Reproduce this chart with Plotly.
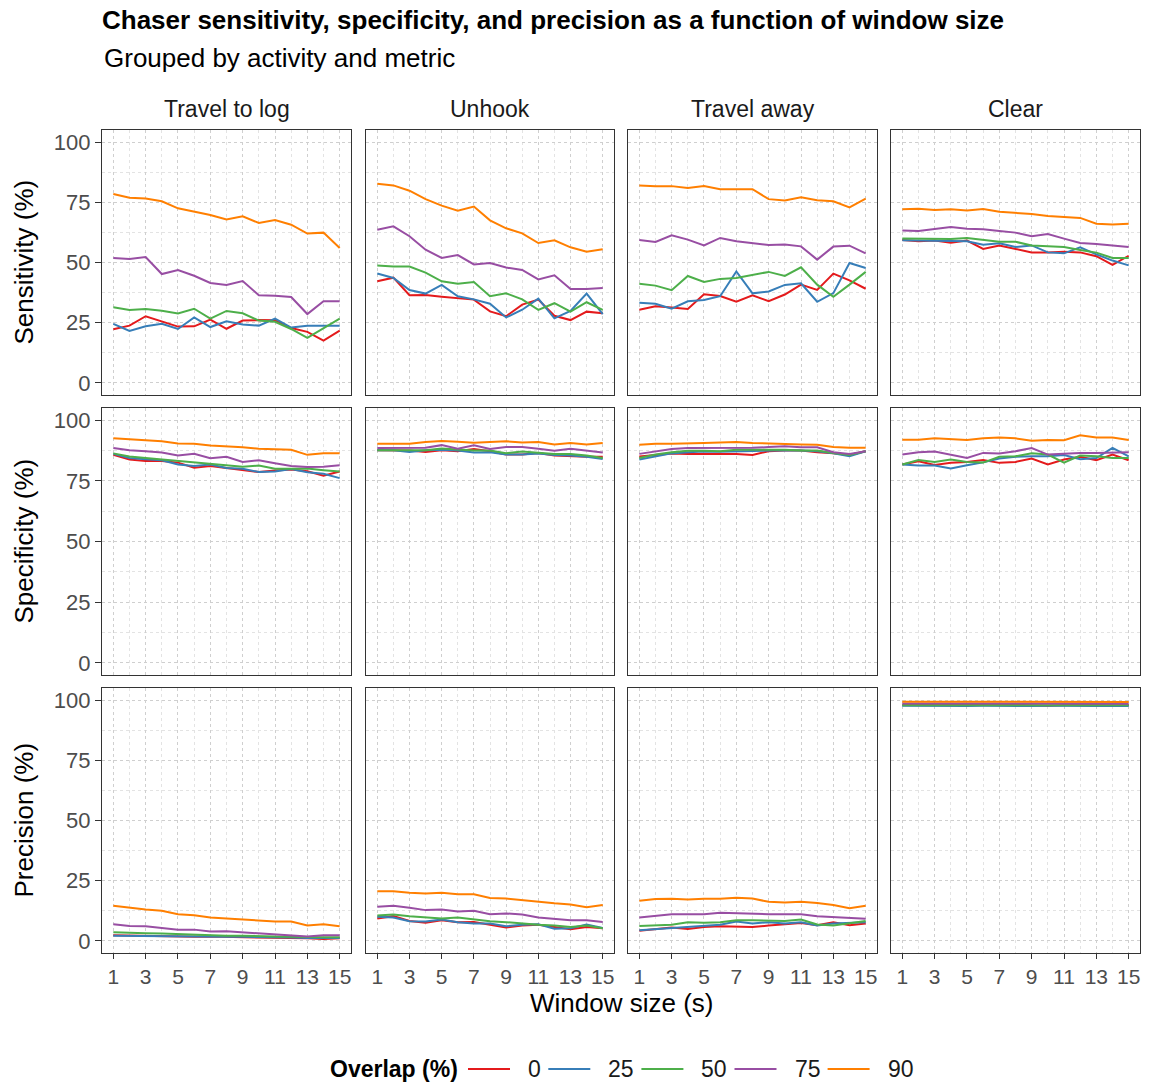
import plotly.graph_objects as go

# ---------------- data ----------------
window_sizes = list(range(1, 16))
overlaps = ["0", "25", "50", "75", "90"]
activities = ["Travel to log", "Unhook", "Travel away", "Clear"]
metrics = ["Sensitivity (%)", "Specificity (%)", "Precision (%)"]
colors = ["#E41A1C", "#377EB8", "#4DAF4A", "#984EA3", "#FF7F00"]
x_tick_vals = [1, 3, 5, 7, 9, 11, 13, 15]
y_tick_vals = [0, 25, 50, 75, 100]

# rows in each panel array follow overlaps order: 0, 25, 50, 75, 90
sens_travel_to_log = [
    [22.3, 23.8, 27.7, 25.6, 23.4, 23.5, 26.3, 22.5, 25.9, 26.1, 26.0, 22.8, 21.2, 17.6, 21.7],
    [24.5, 21.6, 23.5, 24.6, 22.4, 27.2, 23.2, 25.6, 24.3, 23.8, 26.7, 23.0, 23.7, 23.7, 23.7],
    [31.4, 30.3, 30.7, 30.0, 28.8, 30.8, 26.7, 29.9, 28.9, 25.9, 25.4, 22.4, 18.7, 22.8, 26.7],
    [51.9, 51.5, 52.3, 45.2, 46.9, 44.5, 41.5, 40.7, 42.3, 36.4, 36.2, 35.7, 28.6, 33.9, 33.9],
    [78.4, 76.9, 76.6, 75.4, 72.5, 71.2, 69.7, 67.9, 69.2, 66.4, 67.6, 65.7, 62.0, 62.4, 56.0],
]
sens_unhook = [
    [42.2, 43.7, 36.4, 36.5, 35.8, 35.3, 34.6, 29.7, 27.7, 32.5, 34.6, 27.9, 26.1, 29.6, 28.9],
    [45.4, 43.6, 38.6, 37.1, 40.7, 36.0, 34.7, 32.9, 27.2, 30.4, 35.0, 26.8, 29.9, 37.1, 28.6],
    [48.8, 48.3, 48.3, 45.8, 42.2, 41.2, 41.9, 36.0, 37.2, 34.7, 30.3, 33.1, 29.6, 33.5, 30.3],
    [63.6, 65.0, 60.9, 55.3, 51.9, 53.1, 49.2, 49.8, 47.9, 46.9, 43.0, 44.7, 39.0, 39.0, 39.4],
    [82.7, 82.0, 79.8, 76.3, 73.6, 71.5, 73.2, 67.5, 64.2, 62.1, 58.1, 59.2, 56.3, 54.5, 55.5],
]
sens_travel_away = [
    [30.4, 31.8, 31.3, 30.7, 36.8, 36.1, 33.7, 36.4, 33.9, 36.7, 40.8, 38.6, 45.4, 42.6, 39.1],
    [33.3, 32.9, 30.8, 33.9, 34.4, 36.0, 46.3, 37.2, 38.0, 40.7, 41.4, 33.7, 37.3, 49.8, 47.7],
    [41.2, 40.4, 38.5, 44.4, 41.9, 43.2, 43.6, 45.0, 46.1, 44.4, 48.0, 40.8, 35.8, 40.8, 46.1],
    [59.3, 58.5, 61.3, 59.5, 57.1, 60.2, 58.8, 58.1, 57.3, 57.5, 56.7, 51.2, 56.6, 57.0, 53.8],
    [82.0, 81.6, 81.7, 80.9, 81.7, 80.4, 80.4, 80.4, 76.3, 75.7, 77.1, 75.8, 75.4, 72.9, 76.5],
]
sens_clear = [
    [59.3, 58.8, 59.1, 58.2, 59.1, 55.6, 57.1, 55.5, 54.2, 54.1, 54.5, 54.2, 52.6, 49.0, 52.8],
    [59.2, 59.2, 59.2, 58.9, 58.8, 57.4, 58.0, 56.4, 57.1, 54.2, 53.8, 56.3, 53.4, 50.8, 48.8],
    [60.0, 59.9, 59.9, 59.8, 60.2, 59.5, 58.6, 58.6, 57.1, 56.7, 56.4, 55.2, 54.1, 51.9, 51.9],
    [63.3, 63.1, 63.9, 64.7, 64.0, 63.8, 63.1, 62.4, 60.9, 61.8, 59.9, 58.1, 57.7, 57.0, 56.4],
    [72.1, 72.3, 71.8, 72.1, 71.6, 72.2, 71.1, 70.7, 70.1, 69.3, 69.0, 68.5, 66.1, 65.8, 66.1],
]

spec_travel_to_log = [
    [85.7, 83.8, 83.2, 83.2, 82.5, 80.4, 81.1, 80.3, 79.2, 78.6, 79.2, 79.7, 78.9, 77.1, 78.8],
    [86.1, 84.4, 83.9, 83.5, 81.7, 81.1, 81.7, 80.3, 80.0, 78.6, 78.8, 79.9, 78.5, 77.9, 76.1],
    [86.3, 85.0, 84.4, 83.8, 83.1, 82.4, 82.1, 81.4, 80.8, 81.3, 80.0, 80.0, 80.1, 79.4, 78.8],
    [88.5, 87.6, 87.2, 86.7, 85.4, 86.1, 84.3, 84.9, 82.8, 83.5, 82.2, 81.1, 80.7, 80.8, 81.4],
    [92.5, 92.1, 91.7, 91.3, 90.4, 90.3, 89.6, 89.3, 88.8, 88.2, 87.9, 87.8, 85.7, 86.4, 86.4],
]
spec_unhook = [
    [87.6, 87.6, 87.5, 86.9, 87.6, 87.2, 88.1, 87.2, 85.8, 85.8, 86.5, 85.4, 85.1, 84.9, 84.9],
    [87.6, 87.6, 86.9, 87.6, 87.8, 87.5, 86.7, 86.8, 85.8, 85.8, 86.3, 85.6, 85.4, 84.9, 84.0],
    [87.6, 87.6, 87.6, 87.6, 88.3, 87.8, 87.5, 87.5, 86.4, 87.1, 86.5, 86.1, 86.0, 85.4, 84.4],
    [88.5, 88.6, 88.6, 88.6, 89.7, 88.2, 89.6, 88.1, 88.9, 88.9, 88.2, 87.4, 88.2, 87.6, 86.7],
    [90.3, 90.3, 90.3, 91.0, 91.4, 91.1, 90.7, 91.0, 91.3, 90.8, 91.0, 90.0, 90.6, 90.0, 90.6],
]
spec_travel_away = [
    [85.0, 85.8, 86.3, 86.1, 86.1, 86.3, 86.1, 85.6, 87.2, 87.5, 87.5, 86.8, 86.4, 85.6, 87.2],
    [83.8, 85.1, 86.3, 86.8, 87.1, 87.0, 87.2, 87.2, 87.5, 87.6, 87.5, 87.2, 86.4, 85.1, 87.2],
    [84.4, 85.8, 86.8, 87.4, 87.4, 87.2, 87.8, 87.8, 87.9, 87.8, 87.5, 87.5, 86.5, 85.6, 87.2],
    [86.1, 87.2, 88.1, 88.5, 88.5, 88.3, 88.3, 88.6, 88.9, 89.2, 88.8, 88.8, 86.8, 86.1, 87.2],
    [89.9, 90.3, 90.3, 90.6, 90.6, 90.8, 91.0, 90.6, 90.3, 90.1, 90.0, 89.9, 88.9, 88.6, 88.6],
]
spec_clear = [
    [81.7, 83.1, 81.5, 82.4, 82.8, 83.6, 82.4, 82.8, 84.2, 81.7, 83.8, 84.9, 83.5, 85.8, 83.5],
    [81.7, 81.3, 81.3, 80.1, 81.4, 82.6, 84.2, 84.9, 85.1, 85.1, 85.6, 83.9, 84.4, 88.6, 85.1],
    [81.7, 83.6, 82.8, 83.8, 82.8, 82.5, 84.9, 85.1, 86.4, 85.8, 82.5, 85.4, 85.1, 84.4, 84.4],
    [85.8, 86.8, 87.1, 85.6, 84.4, 86.5, 86.3, 87.2, 88.5, 85.8, 86.3, 86.5, 86.5, 86.5, 86.8],
    [91.9, 91.9, 92.5, 92.2, 91.8, 92.5, 92.8, 92.5, 91.5, 91.8, 91.7, 93.8, 92.8, 92.8, 91.8],
]

prec_travel_to_log = [
    [2.4, 2.2, 2.2, 2.1, 1.8, 1.7, 1.8, 1.7, 1.7, 1.7, 1.5, 1.4, 1.1, 0.8, 1.1],
    [2.2, 2.1, 2.1, 1.9, 1.7, 1.7, 1.7, 1.7, 1.7, 1.5, 1.5, 1.4, 1.25, 1.4, 1.25],
    [3.6, 3.3, 3.2, 3.1, 2.8, 2.6, 2.4, 2.2, 2.2, 1.9, 1.8, 1.7, 1.5, 1.5, 1.5],
    [6.9, 6.25, 6.1, 5.3, 4.7, 4.7, 3.9, 4.0, 3.6, 3.2, 2.8, 2.4, 1.9, 2.4, 2.4],
    [14.6, 13.75, 13.1, 12.5, 11.1, 10.7, 9.7, 9.3, 8.9, 8.2, 8.1, 8.1, 6.4, 6.9, 6.1],
]
prec_unhook = [
    [9.3, 10.3, 8.3, 7.6, 8.6, 7.8, 7.9, 6.9, 5.6, 6.4, 6.7, 5.8, 4.9, 5.8, 5.3],
    [10.0, 9.7, 8.2, 8.1, 8.9, 7.8, 7.2, 7.2, 6.1, 6.7, 6.9, 5.1, 5.3, 6.8, 5.4],
    [10.6, 11.0, 10.3, 9.7, 9.3, 9.7, 8.9, 8.2, 7.8, 7.2, 6.7, 6.4, 5.8, 6.4, 5.3],
    [14.2, 14.6, 13.75, 12.8, 13.1, 12.2, 12.5, 11.1, 11.4, 11.0, 9.7, 9.3, 8.6, 8.6, 7.9],
    [20.6, 20.6, 20.0, 19.7, 20.0, 19.4, 19.4, 17.8, 17.6, 16.9, 16.1, 15.6, 15.1, 14.0, 14.9],
]
prec_travel_away = [
    [4.2, 5.0, 5.6, 5.0, 5.8, 6.1, 5.8, 5.8, 6.4, 6.8, 7.5, 6.5, 7.8, 6.5, 7.2],
    [4.4, 4.9, 5.1, 5.8, 6.25, 6.7, 8.1, 7.2, 7.8, 7.2, 7.8, 6.4, 7.2, 7.5, 7.8],
    [6.25, 6.5, 6.7, 7.8, 7.6, 7.8, 8.6, 8.6, 8.6, 8.3, 8.9, 6.8, 6.4, 7.2, 8.3],
    [9.7, 10.3, 11.1, 11.1, 11.1, 11.7, 11.4, 11.1, 11.1, 11.1, 11.1, 10.3, 10.0, 9.7, 9.2],
    [16.7, 17.4, 17.5, 17.2, 17.5, 17.5, 17.9, 17.6, 16.25, 16.0, 16.25, 15.8, 14.9, 13.6, 14.6],
]
prec_clear = [
    [98.0, 98.1, 98.0, 98.1, 98.0, 97.8, 97.9, 98.0, 97.8, 97.6, 97.9, 98.0, 97.9, 97.8, 97.9],
    [97.6, 97.5, 97.6, 97.3, 97.5, 97.6, 97.5, 97.6, 97.5, 97.6, 97.5, 97.6, 97.5, 97.6, 97.5],
    [97.8, 97.8, 97.7, 97.8, 97.8, 97.9, 97.8, 97.7, 97.8, 97.8, 97.7, 97.8, 97.8, 97.7, 97.8],
    [98.6, 98.6, 98.6, 98.6, 98.6, 98.5, 98.6, 98.6, 98.6, 98.6, 98.6, 98.6, 98.6, 98.6, 98.5],
    [99.3, 99.3, 99.3, 99.3, 99.3, 99.3, 99.3, 99.3, 99.2, 99.2, 99.2, 99.2, 99.3, 99.3, 99.2],
]

panels = [
    [sens_travel_to_log, sens_unhook, sens_travel_away, sens_clear],
    [spec_travel_to_log, spec_unhook, spec_travel_away, spec_clear],
    [prec_travel_to_log, prec_unhook, prec_travel_away, prec_clear],
]

# ---------------- layout geometry (pixels) ----------------
W, H = 1149, 1082
col_px = [(102, 351), (366, 614), (628, 877), (891, 1140)]
row_px = [(130, 395), (408, 675), (688, 953)]
FONT = "Arial, Liberation Sans, sans-serif"

fig = go.Figure()
layout = {}
for r in range(3):
    for c in range(4):
        idx = r * 4 + c + 1
        xa = "xaxis" if idx == 1 else f"xaxis{idx}"
        ya = "yaxis" if idx == 1 else f"yaxis{idx}"
        xref = "x" if idx == 1 else f"x{idx}"
        yref = "y" if idx == 1 else f"y{idx}"
        bottom = r == 2
        left = c == 0
        layout[xa] = dict(
            domain=[col_px[c][0] / W, col_px[c][1] / W],
            anchor=yref, range=[0.3, 15.7],
            tickvals=x_tick_vals, ticktext=[str(v) for v in x_tick_vals],
            showticklabels=bottom, ticks="outside" if bottom else "",
            ticklen=5, tickcolor="#333333", tickwidth=1, ticklabelstandoff=0,
            tickfont=dict(size=21, color="#4D4D4D", family=FONT),
            showgrid=True, gridcolor="#CFCFCF", griddash="dot", gridwidth=1,
            minor=dict(tickvals=[2, 4, 6, 8, 10, 12, 14], showgrid=True,
                       gridcolor="#E3E3E3", griddash="dot", gridwidth=1, ticks=""),
            showline=True, mirror=True, linecolor="#333333", linewidth=1.2,
            zeroline=False, fixedrange=True,
        )
        layout[ya] = dict(
            domain=[1 - row_px[r][1] / H, 1 - row_px[r][0] / H],
            anchor=xref, range=[-5, 105],
            tickvals=y_tick_vals, ticktext=[str(v) for v in y_tick_vals],
            showticklabels=left, ticks="outside" if left else "",
            ticklen=6, tickcolor="#333333", tickwidth=1,
            tickfont=dict(size=22, color="#4D4D4D", family=FONT),
            showgrid=True, gridcolor="#CFCFCF", griddash="dot", gridwidth=1,
            minor=dict(tickvals=[12.5, 37.5, 62.5, 87.5], showgrid=True,
                       gridcolor="#E3E3E3", griddash="dot", gridwidth=1, ticks=""),
            showline=True, mirror=True, linecolor="#333333", linewidth=1.2,
            zeroline=False, fixedrange=True,
        )
        data = panels[r][c]
        for k, name in enumerate(overlaps):
            fig.add_trace(go.Scatter(
                x=window_sizes, y=data[k], mode="lines", name=name,
                line=dict(color=colors[k], width=2),
                xaxis=xref, yaxis=yref, showlegend=False,
            ))

annotations = []
shapes = []
# strip labels
for c, act in enumerate(activities):
    annotations.append(dict(
        text=act, x=(col_px[c][0] + col_px[c][1]) / 2 / W, y=1 - 109 / H,
        xref="paper", yref="paper", showarrow=False,
        xanchor="center", yanchor="middle",
        font=dict(size=23, color="#1A1A1A", family=FONT)))
# row (y axis) titles
for r, met in enumerate(metrics):
    annotations.append(dict(
        text=met, x=23 / W, y=1 - (row_px[r][0] + row_px[r][1]) / 2 / H,
        xref="paper", yref="paper", showarrow=False, textangle=-90,
        xanchor="center", yanchor="middle",
        font=dict(size=26, color="#000000", family=FONT)))
# x axis title
annotations.append(dict(
    text="Window size (s)", x=(col_px[0][0] + col_px[3][1]) / 2 / W, y=1 - 1003 / H,
    xref="paper", yref="paper", showarrow=False,
    xanchor="center", yanchor="middle",
    font=dict(size=26, color="#000000", family=FONT)))
# subtitle
annotations.append(dict(
    text="Grouped by activity and metric", x=102 / W, y=1 - 58 / H,
    xref="paper", yref="paper", showarrow=False,
    xanchor="left", yanchor="middle",
    font=dict(size=26, color="#000000", family=FONT)))

# legend (drawn manually to match ggplot key widths)
leg_y = 1 - 1069 / H
annotations.append(dict(
    text="<b>Overlap (%)</b>", x=460 / W, y=leg_y, xref="paper", yref="paper",
    showarrow=False, xanchor="right", yanchor="middle",
    font=dict(size=23, color="#000000", family=FONT)))
key_w, label_gap, item_gap, digit_w = 42, 16, 9.5, 12.8
x0 = 468
for k, name in enumerate(overlaps):
    shapes.append(dict(type="line", xref="paper", yref="paper",
                       x0=x0 / W, x1=(x0 + key_w) / W, y0=leg_y, y1=leg_y,
                       line=dict(color=colors[k], width=2)))
    annotations.append(dict(
        text=name, x=(x0 + key_w + label_gap) / W, y=leg_y, xref="paper", yref="paper",
        showarrow=False, xanchor="left", yanchor="middle",
        font=dict(size=23, color="#1A1A1A", family=FONT)))
    x0 += key_w + label_gap + digit_w * len(name) + item_gap

fig.update_layout(
    **layout,
    width=W, height=H,
    margin=dict(l=0, r=0, t=0, b=0),
    paper_bgcolor="white", plot_bgcolor="white",
    title=dict(text="<b>Chaser sensitivity, specificity, and precision as a function of window size</b>",
               x=102 / W, xanchor="left", y=1 - 20 / H, yanchor="middle",
               font=dict(size=26, color="#000000", family=FONT)),
    annotations=annotations,
    shapes=shapes,
    showlegend=False,
)

fig.write_html("out.html")
